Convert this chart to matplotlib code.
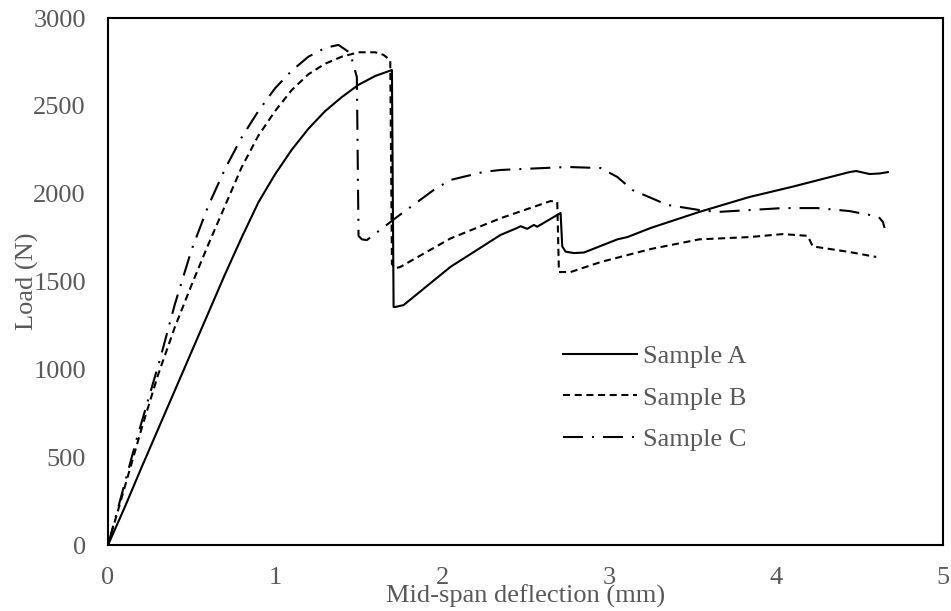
import matplotlib
matplotlib.use('Agg')
from matplotlib import pyplot as plt

# Sample A (solid)
a_defl = [0, 0.1, 0.2, 0.3, 0.4, 0.5, 0.6, 0.7, 0.8, 0.9, 1.0, 1.1, 1.2,
          1.3, 1.4, 1.5, 1.6, 1.7, 1.71, 1.72, 1.77, 2.05, 2.35, 2.45, 2.47,
          2.51, 2.55, 2.57, 2.71, 2.72, 2.74, 2.79, 2.85, 3.05, 3.11, 3.25,
          3.54, 3.84, 4.1, 4.44, 4.48, 4.56, 4.62, 4.67]
a_load = [0, 215, 440, 660, 880, 1100, 1320, 1540, 1750, 1950, 2110, 2250,
          2370, 2470, 2550, 2620, 2670, 2704, 1355, 1355, 1366, 1583, 1765,
          1805, 1815, 1800, 1822, 1812, 1890, 1700, 1670, 1662, 1665, 1740,
          1753, 1805, 1896, 1981, 2040, 2123, 2129, 2112, 2115, 2123]

# Sample B (dashed)
b_defl = [0, 0.1, 0.2, 0.3, 0.4, 0.5, 0.6, 0.7, 0.8, 0.9, 1.0, 1.1, 1.2,
          1.3, 1.4, 1.5, 1.6, 1.65, 1.69, 1.70, 1.72, 1.75, 2.05, 2.35, 2.65,
          2.69, 2.70, 2.77, 2.95, 3.25, 3.54, 3.84, 4.04, 4.19, 4.22, 4.44,
          4.60]
b_load = [0, 330, 660, 970, 1240, 1480, 1710, 1930, 2150, 2330, 2470, 2590,
          2680, 2740, 2780, 2805, 2805, 2790, 2760, 1600, 1575, 1583, 1745,
          1860, 1958, 1953, 1554, 1554, 1611, 1685, 1740, 1753, 1770, 1760,
          1700, 1668, 1640]

# Sample C (dash-dot)
c_defl = [0, 0.17, 0.31, 0.4, 0.5, 0.6, 0.7, 0.8, 0.9, 1.0, 1.1, 1.2,
          1.3, 1.38, 1.45, 1.49, 1.50, 1.52, 1.55, 1.73, 1.95, 2.05, 2.25,
          2.35, 2.75, 2.95, 3.05, 3.14, 3.35, 3.54, 3.65, 4.04, 4.25, 4.44,
          4.56, 4.62, 4.64, 4.65]
c_load = [0, 598, 1053, 1370, 1680, 1930, 2140, 2320, 2470, 2600, 2700,
          2780, 2830, 2847, 2801, 2664, 1760, 1740, 1736, 1867, 2021, 2078,
          2124, 2135, 2152, 2146, 2095, 2021, 1936, 1907, 1896, 1918, 1918,
          1901, 1879, 1862, 1839, 1805]

labels = ['Sample A', 'Sample B', 'Sample C']
x_ticks = [0, 1, 2, 3, 4, 5]
y_ticks = [0, 500, 1000, 1500, 2000, 2500, 3000]

gray = '#595959'
plt.rcParams['font.family'] = ['Liberation Serif', 'DejaVu Serif']
plt.rcParams['font.size'] = 19

fig = plt.figure(figsize=(9.51, 6.11), dpi=100)
ax = fig.add_axes([0.1136, 0.108, 0.878, 0.8625])

ax.plot(a_defl, a_load, color='black', lw=1.5, label=labels[0])
ax.plot(b_defl, b_load, color='black', lw=1.5, dashes=(3.4, 2.2),
        label=labels[1])
ax.plot(c_defl, c_load, color='black', lw=1.5, dashes=(9.6, 4.3, 1, 4.3),
        label=labels[2])

ax.set_xlim(0, 5)
ax.set_ylim(0, 3000)
ax.set_xticks(x_ticks)
ax.set_yticks(y_ticks)
ax.tick_params(length=0, colors=gray, labelsize=19, pad=16)
for s in ax.spines.values():
    s.set_linewidth(1.5)
    s.set_color('black')

# axis titles sit on top of the tick labels, as in the original
ax.set_xlabel('Mid-span deflection (mm)', color=gray)
ax.xaxis.label.set_va('baseline')
ax.xaxis.set_label_coords(0.5, -0.110)
ax.set_ylabel('Load (N)', color=gray)
ax.yaxis.label.set_va('center')
ax.yaxis.set_label_coords(-0.097, 0.5)

leg = ax.legend(loc='center left', bbox_to_anchor=(0.545, 0.279),
                frameon=False, borderaxespad=0, borderpad=0,
                handlelength=2.8, handletextpad=0.22, labelspacing=0.68)
for t in leg.get_texts():
    t.set_color(gray)

fig.savefig('out.png', dpi=100)
